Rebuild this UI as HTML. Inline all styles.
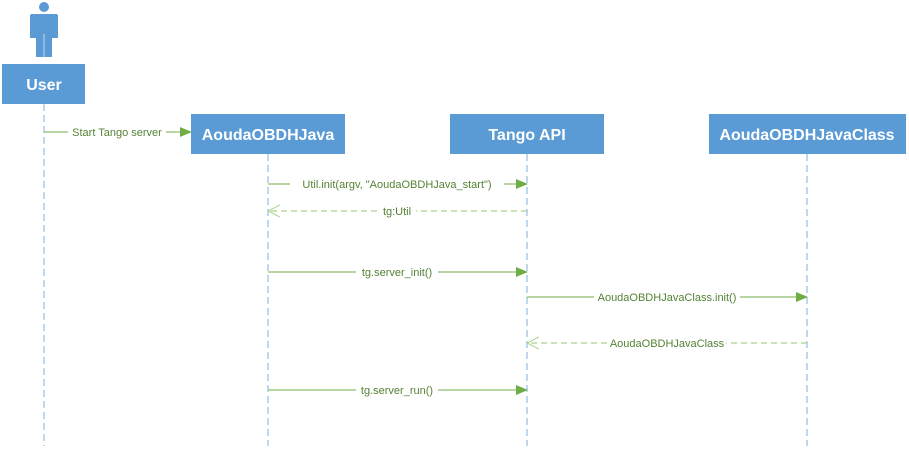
<!DOCTYPE html>
<html><head><style>body{margin:0;background:#fff;width:909px;height:446px;overflow:hidden}</style></head><body>
<svg width="909" height="446" xmlns="http://www.w3.org/2000/svg" font-family="Liberation Sans, sans-serif">
<defs>
<marker id="a" markerWidth="12" markerHeight="10" refX="11" refY="5" orient="auto" markerUnits="userSpaceOnUse"><path d="M0,0 L12,5 L0,10 Z" fill="#70ad47"/></marker>
<marker id="o" markerWidth="13" markerHeight="14" refX="12" refY="7" orient="auto" markerUnits="userSpaceOnUse"><path d="M0,1 L12,7 L0,13" fill="none" stroke="#a9d18e" stroke-width="1"/></marker>
</defs>
<g stroke="#9dc3e6" stroke-width="1.3" stroke-dasharray="7,4">
<line x1="44" y1="104" x2="44" y2="446"/>
<line x1="268" y1="154" x2="268" y2="446"/>
<line x1="527" y1="154" x2="527" y2="446"/>
<line x1="807" y1="154" x2="807" y2="446"/>
</g>
<circle cx="44" cy="7" r="5" fill="#5b9bd5"/>
<path d="M32,14 H56 Q58,14 58,16 V38 H52 V57 H36 V38 H30 V16 Q30,14 32,14 Z" fill="#5b9bd5"/>
<line x1="44" y1="34" x2="44" y2="57" stroke="#bdd7ee" stroke-width="1"/>
<g fill="#5b9bd5">
<rect x="2" y="64" width="83" height="40"/>
<rect x="191" y="114" width="154" height="40"/>
<rect x="450" y="114" width="154" height="40"/>
<rect x="709" y="114" width="197" height="40"/>
</g>
<g fill="#fff" font-weight="bold" font-size="16" text-anchor="middle">
<text x="44" y="90">User</text>
<text x="268" y="140">AoudaOBDHJava</text>
<text x="527" y="140">Tango API</text>
<text x="807" y="140">AoudaOBDHJavaClass</text>
</g>
<g stroke="#70ad47" stroke-width="1" fill="none">
<line x1="44" y1="132" x2="191" y2="132" marker-end="url(#a)"/>
<line x1="268" y1="184" x2="527" y2="184" marker-end="url(#a)"/>
<line x1="268" y1="272" x2="527" y2="272" marker-end="url(#a)"/>
<line x1="527" y1="297" x2="807" y2="297" marker-end="url(#a)"/>
<line x1="268" y1="390" x2="527" y2="390" marker-end="url(#a)"/>
</g>
<g stroke="#a9d18e" stroke-width="1.3" stroke-dasharray="6,4" fill="none">
<line x1="527" y1="211" x2="268" y2="211" marker-end="url(#o)"/>
<line x1="807" y1="343" x2="527" y2="343" marker-end="url(#o)"/>
</g>
<g font-size="11" fill="#548235" text-anchor="middle">
<rect x="68" y="126" width="98" height="12" fill="#fff"/><text x="117" y="136">Start Tango server</text>
<rect x="290" y="178" width="214" height="12" fill="#fff"/><text x="397" y="188">Util.init(argv, "AoudaOBDHJava_start")</text>
<rect x="378" y="205" width="38" height="12" fill="#fff"/><text x="397" y="215">tg:Util</text>
<rect x="356" y="266" width="82" height="12" fill="#fff"/><text x="397" y="276">tg.server_init()</text>
<rect x="594" y="291" width="146" height="12" fill="#fff"/><text x="667" y="301">AoudaOBDHJavaClass.init()</text>
<rect x="608" y="337" width="118" height="12" fill="#fff"/><text x="667" y="347">AoudaOBDHJavaClass</text>
<rect x="356" y="384" width="82" height="12" fill="#fff"/><text x="397" y="394">tg.server_run()</text>
</g>
</svg>
</body></html>
